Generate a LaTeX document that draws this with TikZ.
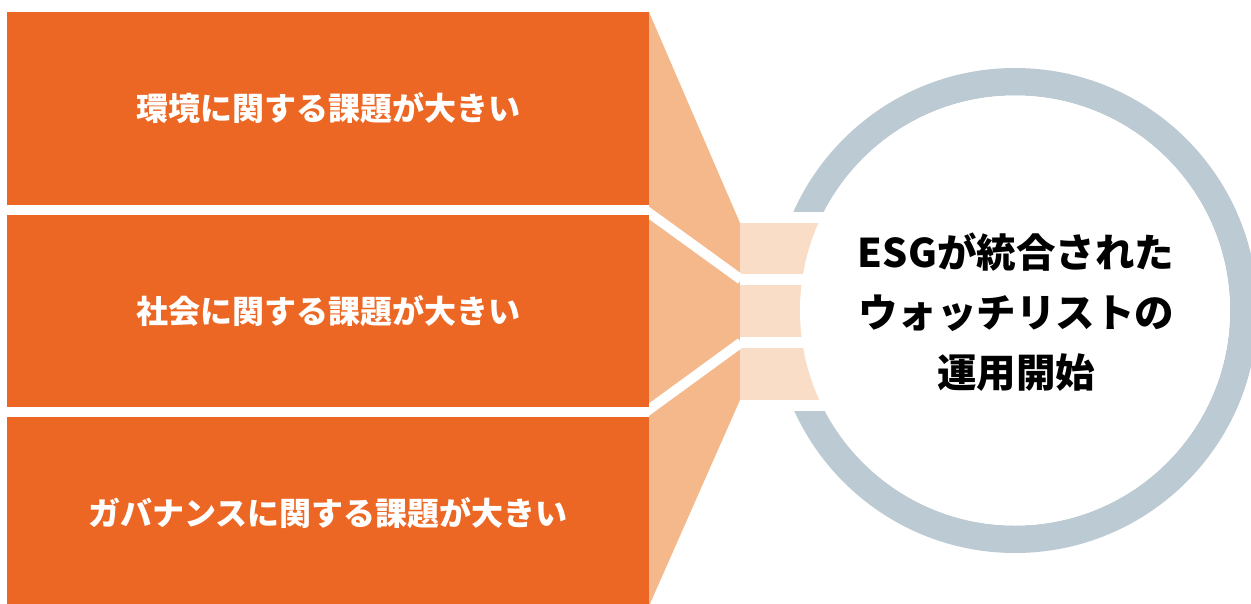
\documentclass[tikz,border=0pt]{standalone}
\usepackage{fontspec}
\setmainfont{Noto Sans CJK JP}
\definecolor{orangeM}{HTML}{EC6624}
\definecolor{orangeL}{HTML}{F5B88B}
\definecolor{orangeXL}{HTML}{FADDC6}
\definecolor{ringG}{HTML}{BBCAD3}
\tikzset{
  obox/.style={fill=orangeM, draw=none, minimum width=642pt, inner sep=0pt,
    text=white, font=\bfseries\fontsize{32}{38}\selectfont},
  lbox/.style={fill=orangeXL, draw=none},
  sep/.style={draw=white, line width=10pt},
}
\begin{document}
\begin{tikzpicture}[x=1pt,y=-1pt]
\useasboundingbox (0,0) rectangle (1251,603);
% funnel
\fill[orangeL] (649,12) -- (740,223) -- (740,400) -- (649,606) -- cycle;
% ring
\node[circle, draw=ringG, line width=27.5pt, minimum size=457.5pt, inner sep=0pt] (ring) at (1015,310.5) {};
% white band over ring
\fill[white] (740,212) rectangle (905,411);
% light boxes
\node[lbox, anchor=north west, minimum width=160pt, minimum height=51pt, inner sep=0pt] (b1) at (740,223) {};
\node[lbox, anchor=north west, minimum width=160pt, minimum height=52pt, inner sep=0pt] (b2) at (740,285) {};
\node[lbox, anchor=north west, minimum width=160pt, minimum height=52pt, inner sep=0pt] (b3) at (740,348) {};
% inner circle
\node[circle, fill=white, minimum size=430pt, inner sep=0pt] (c) at (1015,310.5) {};
\node[align=center, font=\bfseries\fontsize{39.5}{60}\selectfont, text=black] (ct) at (1016,312) {ESGが統合された\\ウォッチリストの\\運用開始};
% separators
\coordinate (s1a) at (645,210);
\coordinate (s1b) at (741,279.5);
\coordinate (s2a) at (645,412.5);
\coordinate (s2b) at (741,342.5);
\draw[sep] (s1a) -- (s1b);
\draw[sep] (s2a) -- (s2b);
% orange boxes
\node[obox, minimum height=193pt] (e) at (328,108.5) {環境に関する課題が大きい};
\node[obox, minimum height=192pt] (s) at (328,311) {社会に関する課題が大きい};
\node[obox, minimum height=193pt] (g) at (328,513.5) {ガバナンスに関する課題が大きい};
\end{tikzpicture}
\end{document}
